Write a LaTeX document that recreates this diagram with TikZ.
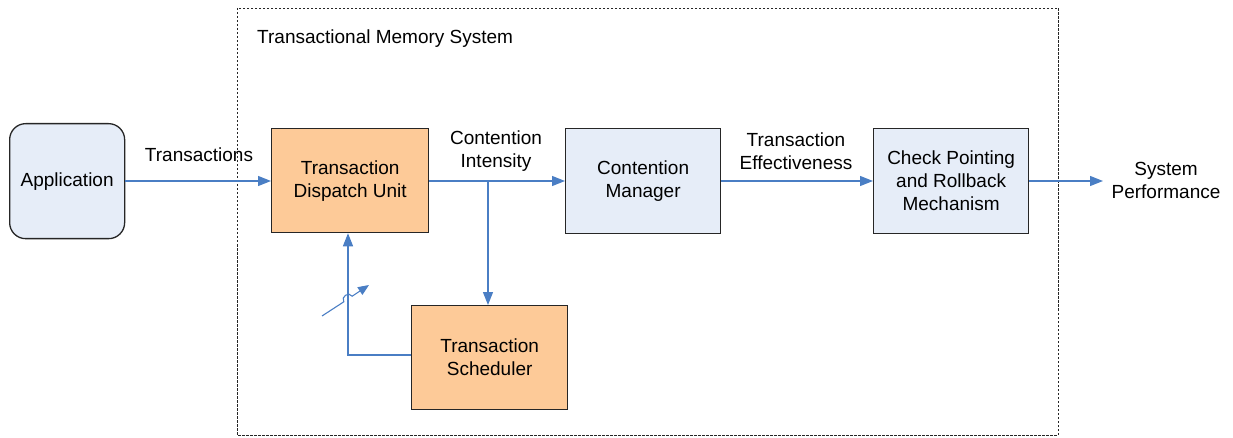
\documentclass[tikz,border=0pt]{standalone}
\usepackage{fontspec}
\setmainfont{Liberation Sans}
\usetikzlibrary{arrows.meta}
\definecolor{bluefill}{HTML}{E6EDF8}
\definecolor{orangefill}{HTML}{FDCA98}
\definecolor{arrowblue}{HTML}{4A7EC4}
\definecolor{border}{HTML}{262626}
\tikzset{
  box/.style={draw=border, line width=1.3pt, inner sep=0pt, anchor=north west,
    align=center, font=\fontsize{19}{23}\selectfont},
  bluebox/.style={box, fill=bluefill},
  orangebox/.style={box, fill=orangefill},
  conn/.style={draw=arrowblue, line width=1.3pt, -{Triangle[length=13pt,width=10pt]}},
  lbl/.style={inner sep=0pt, align=center, font=\fontsize{19}{23}\selectfont}
}
\begin{document}
\begin{tikzpicture}[x=1pt,y=-1pt]
\useasboundingbox (0,0) rectangle (1233,438);
% system border
\draw[line width=0.8pt, draw=border, dash pattern=on 2.5pt off 1.5pt] (237,8) rectangle (1058,435);
\node[lbl, anchor=west] (sys) at (257,39) {Transactional Memory System};
% boxes
\node[bluebox, rounded corners=16pt, minimum width=115pt, minimum height=115pt] (app) at (9,123) {Application};
\node[orangebox, minimum width=157pt, minimum height=104pt] (tdu) at (271,128) {Transaction\\Dispatch Unit};
\node[bluebox, minimum width=155pt, minimum height=105pt] (cm) at (565,128) {Contention\\Manager};
\node[bluebox, minimum width=155pt, minimum height=105pt] (cp) at (873,128) {Check Pointing\\and Rollback\\Mechanism};
\node[orangebox, minimum width=156pt, minimum height=104pt] (ts) at (411,305) {Transaction\\Scheduler};
% labels
\node[lbl] (ltrans) at (199,155) {Transactions};
\node[lbl] (lci) at (496,151) {Contention\\Intensity};
\node[lbl] (lte) at (796,151) {Transaction\\Effectiveness};
\node[lbl] (lsp) at (1166,180) {System\\Performance};
% connectors
\coordinate (branch) at (488,181);
\coordinate (spend) at (1103,181);
\coordinate (corner) at (348,355);
\draw[conn] (app.east |- 0,181) -- (tdu.west |- 0,181);
\draw[conn] (tdu.east |- 0,181) -- (cm.west |- 0,181);
\draw[conn] (branch) -- (branch |- ts.north);
\draw[conn] (cm.east |- 0,181) -- (cp.west |- 0,181);
\draw[conn] (cp.east |- 0,181) -- (spend);
\draw[conn] (ts.west |- corner) -- (corner) -- (corner |- tdu.south);
% variable arrow symbol with hop
\coordinate (vs) at (322,316);
\coordinate (ve) at (369,285);
\coordinate (h1) at (343.8,301.8);
\coordinate (h2) at (352.2,296.2);
\draw[draw=arrowblue, line width=1.1pt, -{Triangle[length=11pt,width=9pt]}]
  (vs) -- (h1) .. controls (340.5,296.8) and (348.9,291.2) .. (h2) -- (ve);
\end{tikzpicture}
\end{document}
